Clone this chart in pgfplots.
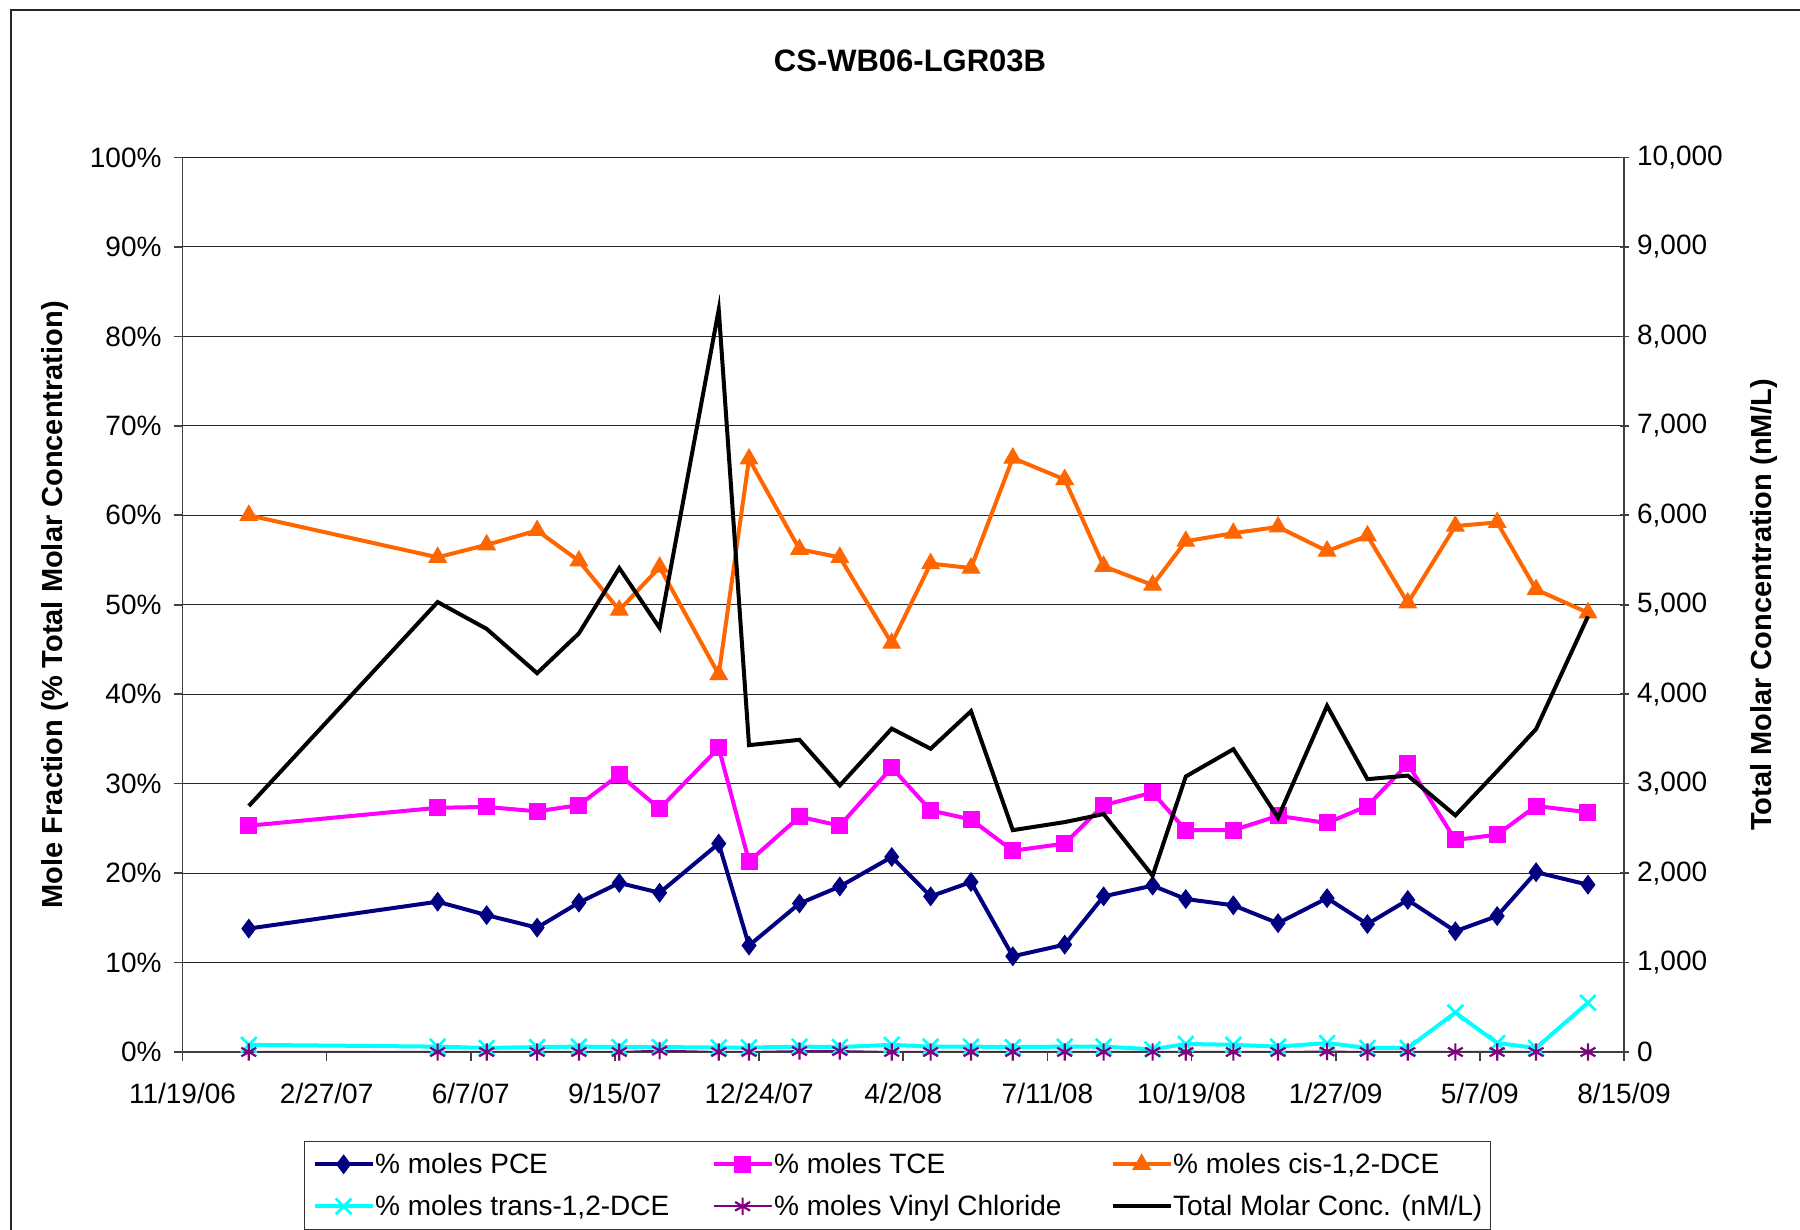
\documentclass[border=0pt]{standalone}
\usepackage{fontspec}
\setmainfont{Liberation Sans}
\usepackage{pgfplots}
\usepackage{pgfplotstable}
\pgfplotsset{compat=1.18}
\definecolor{pce}{RGB}{0,0,128}
\definecolor{tce}{RGB}{255,0,255}
\definecolor{cis}{RGB}{255,102,0}
\definecolor{trans}{RGB}{0,255,255}
\definecolor{vc}{RGB}{128,0,128}

\pgfplotstableread{
day pce tce cis trans vc total
46  13.8 25.3 60.0 0.80 0.00 2750
177 16.8 27.3 55.3 0.60 0.00 5030
211 15.3 27.4 56.7 0.45 0.00 4730
246 13.9 26.9 58.3 0.55 0.00 4235
275 16.7 27.6 54.9 0.60 0.00 4680
303 18.9 31.0 49.4 0.55 0.00 5410
331 17.8 27.2 54.2 0.55 0.15 4740
372 23.3 34.0 42.2 0.50 0.00 8300
393 11.9 21.3 66.3 0.50 0.00 3430
428 16.6 26.3 56.2 0.60 0.10 3490
456 18.5 25.3 55.3 0.55 0.10 2980
492 21.8 31.8 45.7 0.80 0.00 3615
519 17.4 27.0 54.6 0.60 0.00 3390
547 19.0 26.0 54.1 0.60 0.00 3810
576 10.7 22.5 66.4 0.55 0.00 2480
612 12.0 23.3 64.0 0.60 0.00 2570
639 17.4 27.6 54.3 0.60 0.00 2660
673 18.6 29.0 52.2 0.30 0.00 1970
696 17.1 24.8 57.1 0.90 0.00 3080
729 16.4 24.8 58.0 0.80 0.00 3385
760 14.4 26.4 58.7 0.60 0.00 2620
794 17.2 25.6 56.0 1.00 0.05 3870
822 14.3 27.5 57.7 0.45 0.00 3050
850 17.0 32.2 50.2 0.45 0.00 3090
883 13.5 23.7 58.8 4.40 0.00 2645
912 15.2 24.3 59.2 1.00 0.00 3140
939 20.1 27.5 51.7 0.45 0.00 3610
975 18.7 26.8 49.1 5.50 0.00 4870
}\datatable

\pgfplotsset{
  base/.style={
    at={(91.25pt,89pt)}, anchor=south west,
    scale only axis, width=720.75pt, height=447.25pt,
    xmin=0, xmax=1000,
    xtick={0,100,...,1000},
    /pgf/number format/assume math mode=true,
    tick label style={font=\fontsize{14}{16}\selectfont, inner sep=0pt},
    major tick length=4.5pt,
    tick style={black!75, line width=0.8pt},
    axis line style={black!75, line width=0.9pt},
  }
}

\begin{document}
\begin{tikzpicture}
\path[use as bounding box] (0,0) rectangle (900pt,615pt);
\draw[line width=1pt, black!85] (5.5pt,0pt) -- (5.5pt,610pt) -- (900pt,610pt);

\begin{axis}[base,
  ymin=0, ymax=100,
  axis x line*=bottom, axis y line*=left,
  tick align=outside,
  ytick={0,10,...,100},
  yticklabel={\pgfmathprintnumber{\tick}\%},
  yticklabel style={anchor=east, xshift=-5.8pt},
  xticklabels={11/19/06,2/27/07,6/7/07,9/15/07,12/24/07,4/2/08,7/11/08,10/19/08,1/27/09,5/7/09,8/15/09},
  xticklabel style={anchor=base, yshift=-21.5pt},
  ymajorgrids, grid style={black!85, line width=0.5pt},
  title={CS-WB06-LGR03B},
  title style={at={(axis description cs:0.5047,1.0951)}, anchor=center, font=\bfseries\fontsize{15.5}{18}\selectfont},
  ylabel={Mole Fraction (\% Total Molar Concentration)},
  every axis y label/.style={at={(axis description cs:-0.0885,0.5)}, anchor=center, rotate=90, font=\bfseries\fontsize{14.5}{17}\selectfont},
  legend columns=3, legend cell align=left,
  legend style={at={(axis description cs:0.0843,-0.0992)}, anchor=north west,
    draw=black!80, line width=0.6pt, inner xsep=4pt, inner ysep=4.5pt,
    font=\fontsize{14}{16}\selectfont,
    nodes={inner sep=0pt, text height=11.5pt, text depth=2.5pt},
    row sep=7pt,
    /tikz/every odd column/.append style={column sep=0.3pt}},
  legend image code/.code={\draw[mark repeat=2,mark phase=2] plot coordinates {(0pt,0pt) (14.5pt,0pt) (29pt,0pt)};},
]
\addplot[pce, line width=2pt, mark=diamond*, mark size=4.6pt, mark options={solid, line width=0.5pt}] table[x=day, y=pce] {\datatable};
\addlegendentry{\makebox[168.2pt][l]{\% moles PCE}}
\addplot[tce, line width=2pt, mark=square*, mark size=4pt, mark options={solid, line width=0.5pt}] table[x=day, y=tce] {\datatable};
\addlegendentry{\makebox[168.2pt][l]{\% moles TCE}}
\addplot[cis, line width=2pt, mark=triangle*, mark size=5pt, mark options={solid, line width=0.5pt}] table[x=day, y=cis] {\datatable};
\addlegendentry{\% moles cis-1,2-DCE}
\addplot[trans, line width=2pt, mark=x, mark size=5.5pt, mark options={solid, line width=1.3pt}] table[x=day, y=trans] {\datatable};
\addlegendentry{\makebox[168.2pt][l]{\% moles trans-1,2-DCE}}
\addplot[vc, line width=1pt, mark=asterisk, mark size=4.3pt, mark options={solid, line width=1.1pt}] table[x=day, y=vc] {\datatable};
\addlegendentry{\makebox[168.2pt][l]{\% moles Vinyl Chloride}}
\addlegendimage{black, line width=2pt, no markers}
\addlegendentry{Total Molar Conc. (nM/L)}
\end{axis}

\begin{axis}[base,
  ymin=0, ymax=10000,
  axis x line=none, axis y line*=right,
  tick align=center,
  ytick={0,1000,...,10000},
  scaled y ticks=false,
  yticklabel style={anchor=west, xshift=4.1pt, /pgf/number format/1000 sep={,}},
  ylabel={Total Molar Concentration (nM/L)},
  every axis y label/.style={at={(axis description cs:1.0971,0.5)}, anchor=center, rotate=90, font=\bfseries\fontsize{14.5}{17}\selectfont},
]
\addplot[black, line width=2pt, no markers] table[x=day, y=total] {\datatable};
\end{axis}
\end{tikzpicture}
\end{document}
